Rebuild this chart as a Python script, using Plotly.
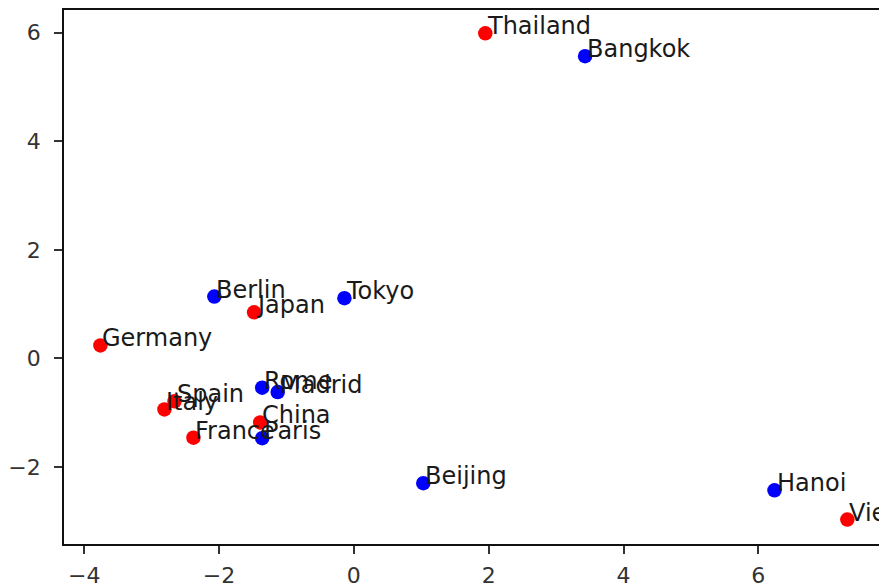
import plotly.graph_objects as go

# Word-embedding style 2-D projection: countries (red) and their capitals (blue)
countries = ["Germany", "Italy", "Spain", "France", "China", "Japan", "Thailand", "Vietnam"]
country_x = [-3.76, -2.81, -2.66, -2.38, -1.39, -1.48, 1.95, 7.32]
country_y = [0.24, -0.94, -0.79, -1.46, -1.18, 0.85, 5.99, -2.97]

capitals = ["Berlin", "Rome", "Madrid", "Paris", "Beijing", "Tokyo", "Bangkok", "Hanoi"]
capital_x = [-2.07, -1.36, -1.13, -1.36, 1.03, -0.14, 3.43, 6.24]
capital_y = [1.14, -0.54, -0.62, -1.47, -2.30, 1.11, 5.57, -2.43]

x_ticks = [-4, -2, 0, 2, 4, 6]
y_ticks = [-2, 0, 2, 4, 6]

FONT = "DejaVu Sans"
TEXT_COLOR = "#1a1a1a"
TICK_COLOR = "#333333"

fig = go.Figure()
fig.add_trace(go.Scatter(
    x=country_x, y=country_y, mode="markers",
    marker=dict(color="#ff0000", size=14.5, line=dict(width=0)),
    hoverinfo="text", text=countries, showlegend=False, cliponaxis=False,
))
fig.add_trace(go.Scatter(
    x=capital_x, y=capital_y, mode="markers",
    marker=dict(color="#0000ff", size=14.5, line=dict(width=0)),
    hoverinfo="text", text=capitals, showlegend=False, cliponaxis=False,
))

# word labels: left edge and baseline at the point
annotations = []
for names, xs, ys in ((countries, country_x, country_y), (capitals, capital_x, capital_y)):
    for name, x, y in zip(names, xs, ys):
        annotations.append(dict(
            x=x, y=y, text=name, showarrow=False,
            xanchor="left", yanchor="bottom", borderpad=0,
            yshift=-8, xshift=1,
            font=dict(family=FONT, size=24, color=TEXT_COLOR),
        ))

axis_common = dict(
    showgrid=False, zeroline=False, automargin=False,
    showline=True, linecolor="#111", linewidth=1.8,
    ticks="outside", ticklen=8, tickwidth=1.6, tickcolor=TICK_COLOR,
    tickfont=dict(family=FONT, size=22, color=TICK_COLOR),
)

fig.update_layout(
    width=879, height=586,
    margin=dict(l=64, r=0, t=10, b=42),
    paper_bgcolor="white", plot_bgcolor="white",
    annotations=annotations,
    font=dict(family=FONT, size=22, color=TICK_COLOR),
    xaxis=dict(
        range=[-4.30, 7.79], tickvals=x_ticks,
        ticktext=[str(v).replace("-", "\u2212") for v in x_ticks],
        mirror=True, ticklabelstandoff=3, **axis_common,
    ),
    yaxis=dict(
        range=[-3.42, 6.42], tickvals=y_ticks,
        ticktext=[str(v).replace("-", "\u2212") for v in y_ticks],
        mirror=False, ticklabelstandoff=9, **axis_common,
    ),
)

fig.write_html("out.html")
